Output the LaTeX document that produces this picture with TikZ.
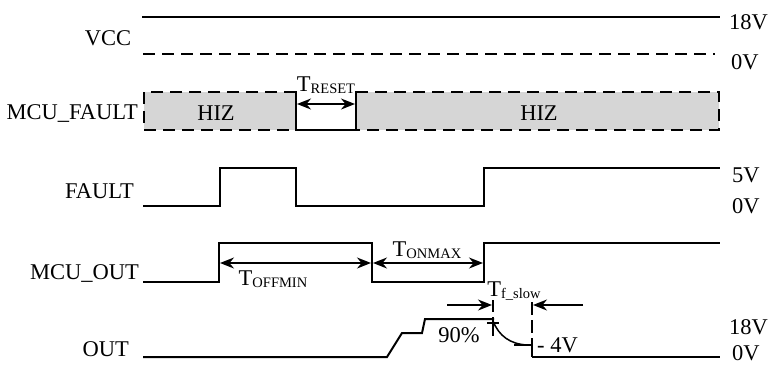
\documentclass[tikz,border=0pt]{standalone}
\usepackage{fontspec}
\setmainfont{Liberation Serif}
\usetikzlibrary{arrows.meta}
\newcommand\Tsub[1]{T\raisebox{-2pt}{\fontsize{14.5}{15}\selectfont #1}}
\definecolor{hizfill}{RGB}{214,214,214}
\begin{document}
\begin{tikzpicture}[x=1pt,y=-1pt,
  sig/.style={line width=2pt, line join=miter, line cap=rect},
  dsh/.style={line width=2pt, dash pattern=on 12pt off 7pt},
  thin/.style={line width=1.5pt},
  lbl/.style={font=\fontsize{22.5}{24}\selectfont, inner sep=0pt},
  dimarrow/.style={line width=1.6pt, {Stealth[length=14pt,width=11pt]}-{Stealth[length=14pt,width=11pt]}},
  onearrow/.style={line width=1.6pt, -{Stealth[length=14pt,width=11pt]}}
  ]
\useasboundingbox (0,0) rectangle (769,365);

% ---------- VCC ----------
\coordinate (vccA) at (143,16.5);
\coordinate (vccB) at (719,16.5);
\coordinate (vccC) at (143,54);
\coordinate (vccD) at (715,54);
\draw[sig] (vccA) -- (vccB);
\draw[dsh] (vccC) -- (vccD);
\node[lbl] (vcc) at (108,38) {VCC};
\node[lbl,anchor=west] (v18a) at (729,22) {18V};
\node[lbl,anchor=west] (v0a) at (731,62) {0V};

% ---------- MCU_FAULT ----------
\fill[hizfill] (144,92) rectangle (296,130);
\fill[hizfill] (356,92) rectangle (719,130);
\draw[dsh] (296,92) -- (144,92) -- (144,130) -- (296,130);
\draw[sig] (296,92) -- (296,130);
\draw[thin] (296,130) -- (356,130);
\draw[sig] (356,130) -- (356,92);
\draw[dsh] (356,92) -- (719,92) -- (719,130) -- (356,130);
\node[lbl] (hiz1) at (216,113) {HIZ};
\node[lbl] (hiz2) at (539,113) {HIZ};
\node[lbl,anchor=east] (mcufault) at (138,113) {MCU\_FAULT};
\coordinate (trA) at (297,104);
\coordinate (trB) at (355,104);
\draw[dimarrow] (trA) -- (trB);
\node[lbl] (treset) at (326,85) {\Tsub{RESET}};

% ---------- FAULT ----------
\draw[sig] (144,206) -- (220,206) -- (220,168) -- (296,168) -- (296,206)
  -- (484,206) -- (484,168) -- (719,168);
\node[lbl,anchor=east] (fault) at (134,191) {FAULT};
\node[lbl,anchor=west] (v5b) at (732,175) {5V};
\node[lbl,anchor=west] (v0b) at (732,206) {0V};

% ---------- MCU_OUT ----------
\draw[sig] (144,282) -- (219,282) -- (219,243) -- (372,243) -- (372,282)
  -- (484,282) -- (484,243) -- (719,243);
\node[lbl,anchor=east] (mcuout) at (139,273) {MCU\_OUT};
\coordinate (toA) at (220,263);
\coordinate (toB) at (371,263);
\coordinate (tnA) at (373,263);
\coordinate (tnB) at (483,263);
\draw[dimarrow] (toA) -- (toB);
\draw[dimarrow] (tnA) -- (tnB);
\node[lbl] (toffmin) at (273,279) {\Tsub{OFFMIN}};
\node[lbl] (tonmax) at (427,250) {\Tsub{ONMAX}};

% ---------- OUT ----------
\draw[sig] (144,357) -- (387,357) -- (402,333) -- (422,333) -- (425,319) -- (493,319);
\draw[thin] (493,321) .. controls (499,336) and (510,344) .. (527,345);
\draw[thin] (514,345) -- (532,345);
\draw[thin] (487,323) -- (499,323);
% dashed marker lines
\draw[thin] (493,300) -- (493,312);
\draw[thin] (493,317) -- (493,336);
\draw[thin] (532,302) -- (532,315);
\draw[thin] (532,320) -- (532,333);
\draw[thin] (532,338) -- (532,357);
\draw[sig] (533,357) -- (719,357);
\coordinate (tfA) at (447,305);
\coordinate (tfB) at (492,305);
\coordinate (tfC) at (583,305);
\coordinate (tfD) at (533,305);
\draw[onearrow] (tfA) -- (tfB);
\draw[onearrow] (tfC) -- (tfD);
\node[lbl] (tfslow) at (514,291) {\Tsub{f\_slow}};
\node[lbl] (p90) at (459,335) {90\%};
\node[lbl,anchor=west] (v4) at (537,345) {- 4V};
\node[lbl,anchor=east] (out) at (129,349) {OUT};
\node[lbl,anchor=west] (v18c) at (729,327) {18V};
\node[lbl,anchor=west] (v0c) at (732,353) {0V};
\end{tikzpicture}
\end{document}
